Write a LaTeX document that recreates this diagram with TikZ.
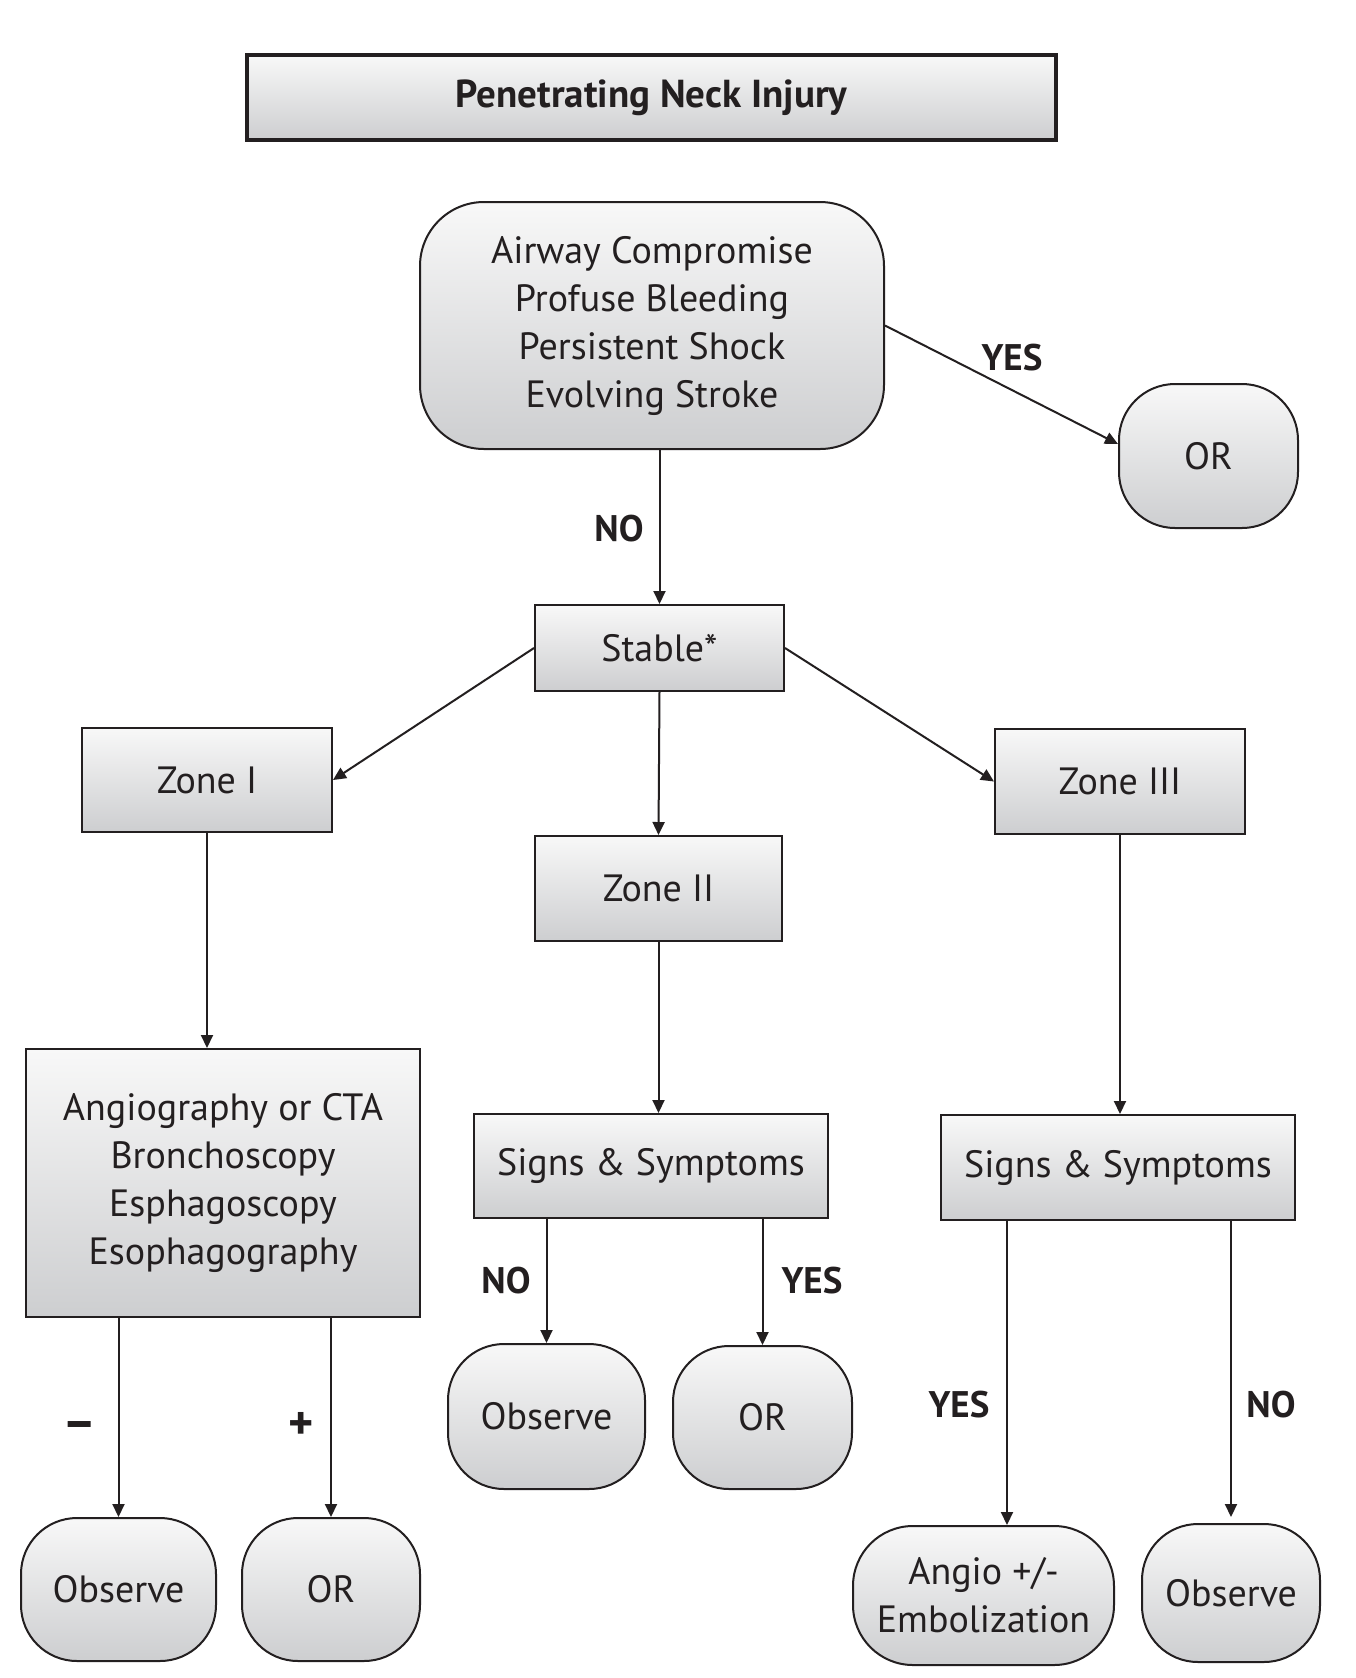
\documentclass[tikz,border=0pt]{standalone}
\usepackage{fontspec}
\setmainfont{PT Sans}
\usetikzlibrary{arrows.meta,calc}
\definecolor{ink}{HTML}{231F20}
\definecolor{gtop}{HTML}{F8F8F8}
\definecolor{gbot}{HTML}{CDCED0}
\tikzset{
  boxbase/.style={draw=ink, line width=1pt, top color=gtop, bottom color=gbot, text=ink, align=center, inner sep=0pt, font=\fontsize{19}{24}\selectfont},
  sqbox/.style={boxbase, rectangle},
  rbox/.style={boxbase, rectangle, rounded corners=#1},
  titlebox/.style={boxbase, rectangle, line width=2pt, font=\bfseries\fontsize{19.5}{24}\selectfont},
  arr/.style={draw=ink, line width=1pt, -{Triangle[length=6.5pt,width=6pt]}},
  lab/.style={text=ink, font=\bfseries\fontsize{18.5}{24}\selectfont, inner sep=0pt},
}
\begin{document}
\begin{tikzpicture}[x=0.5pt,y=-0.5pt]
\useasboundingbox[fill=white] (0,0) rectangle (1356,1678);
\node[titlebox, minimum width=404.5pt, minimum height=42.5pt] (title) at (651.5,97.5) {Penetrating Neck Injury};
\node[rbox=32pt, minimum width=232pt, minimum height=123.5pt] (top) at (652,325.5) {Airway Compromise\\Profuse Bleeding\\Persistent Shock\\Evolving Stroke};
\node[rbox=28pt, minimum width=89.5pt, minimum height=72pt] (orR) at (1208.5,456) {OR};
\node[sqbox, minimum width=124.5pt, minimum height=43pt] (stable) at (659.5,648) {Stable*};
\node[sqbox, minimum width=125pt, minimum height=52pt] (zone1) at (207,780) {Zone I};
\node[sqbox, minimum width=123.5pt, minimum height=52.5pt] (zone2) at (658.5,888.5) {Zone II};
\node[sqbox, minimum width=125pt, minimum height=52.5pt] (zone3) at (1120,781.5) {Zone III};
\node[sqbox, minimum width=197pt, minimum height=134pt] (big) at (223,1183) {Angiography or CTA\\Bronchoscopy\\Esphagoscopy\\Esophagography};
\node[sqbox, minimum width=177pt, minimum height=52pt] (ss2) at (651,1166) {Signs \& Symptoms};
\node[sqbox, minimum width=177pt, minimum height=52.5pt] (ss3) at (1118,1167.5) {Signs \& Symptoms};
\node[rbox=28pt, minimum width=97.5pt, minimum height=71.5pt] (obs1) at (118.5,1589.5) {Observe};
\node[rbox=28pt, minimum width=89pt, minimum height=71.5pt] (or1) at (331,1589.5) {OR};
\node[rbox=28pt, minimum width=98.5pt, minimum height=72.5pt] (obs2) at (546.5,1416.5) {Observe};
\node[rbox=28pt, minimum width=89.5pt, minimum height=71.5pt] (or2) at (762.5,1417.5) {OR};
\node[rbox=30pt, minimum width=130.5pt, minimum height=69.5pt] (angio) at (983.5,1595.5) {Angio +/-\\Embolization};
\node[rbox=28pt, minimum width=89pt, minimum height=69pt] (obs3) at (1231,1593) {Observe};

\draw[arr] (top.east) -- ([yshift=6pt]orR.west);
\draw[arr] (top.south -| stable.north) -- (stable.north);
\draw[arr] (stable.west) -- (zone1.east);
\draw[arr] (stable.south) -- (zone2.north);
\draw[arr] (stable.east) -- (zone3.west);
\draw[arr] (zone1.south) -- (zone1.south |- big.north);
\draw[arr] (zone2.south) -- (zone2.south |- ss2.north);
\draw[arr] (zone3.south) -- (zone3.south |- ss3.north);
\draw[arr] (big.south -| obs1.north) -- (obs1.north);
\draw[arr] (big.south -| or1.north) -- (or1.north);
\draw[arr] (ss2.south -| obs2.north) -- (obs2.north);
\draw[arr] (ss2.south -| or2.north) -- (or2.north);
\coordinate (s3a) at ($(ss3.south)+(-111,0)$);
\draw[arr] (s3a) -- (s3a |- angio.north);
\draw[arr] (ss3.south -| obs3.north) -- ([yshift=3pt]obs3.north);

\node[lab] (l1) at (1012,358) {YES};
\node[lab] (l2) at (619,529) {NO};
\node[lab, font=\bfseries\fontsize{26}{24}\selectfont] (l3) at (80,1430) {–};
\node[lab, font=\bfseries\fontsize{24}{24}\selectfont] (l4) at (301,1426) {+};
\node[lab] (l5) at (506,1281) {NO};
\node[lab] (l6) at (812,1281) {YES};
\node[lab] (l7) at (959,1405) {YES};
\node[lab] (l8) at (1271,1405) {NO};
\end{tikzpicture}
\end{document}
